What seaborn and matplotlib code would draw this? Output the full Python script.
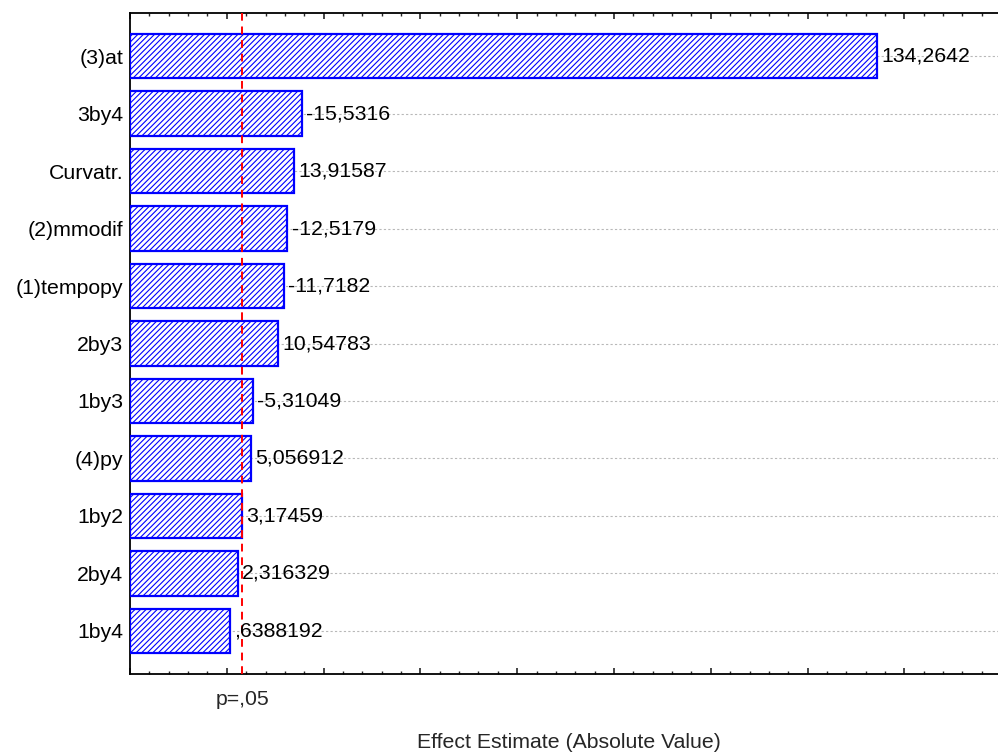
import matplotlib
matplotlib.use('Agg')
import matplotlib.pyplot as plt
import matplotlib.transforms as mtransforms
from matplotlib.ticker import MultipleLocator, NullFormatter
import seaborn as sns
import pandas as pd

# data
factors = ["(3)at", "3by4", "Curvatr.", "(2)mmodif", "(1)tempopy", "2by3",
           "1by3", "(4)py", "1by2", "2by4", "1by4"]
effects = [134.2642, -15.5316, 13.91587, -12.5179, -11.7182, 10.54783,
           -5.31049, 5.056912, 3.17459, 2.316329, 0.6388192]
effect_labels = ["134,2642", "-15,5316", "13,91587", "-12,5179", "-11,7182", "10,54783",
                 "-5,31049", "5,056912", "3,17459", "2,316329", ",6388192"]
p_crit = 3.182  # t critical, p=.05
p_label = "p=,05"

df = pd.DataFrame({"factor": factors, "abs_effect": [abs(v) for v in effects]})

x_min, x_max = -20, 161.4

sns.set_theme(style="white")
plt.rcParams['font.family'] = ['Liberation Sans', 'DejaVu Sans']
plt.rcParams['hatch.color'] = '#0000ff'
plt.rcParams['hatch.linewidth'] = 0.8

fig = plt.figure(figsize=(9.98, 7.52), dpi=100)
ax = fig.add_axes([130 / 998, 1 - 674 / 752, 1 - 130 / 998 + 0.01, (674 - 13) / 752])

sns.barplot(data=df, x="abs_effect", y="factor", orient="h", ax=ax,
            color="white", edgecolor="#0000ff", linewidth=1.6, width=0.77,
            zorder=3)
# statistica style: bars grow from the left edge of the axis
for p, v in zip(ax.patches, df["abs_effect"]):
    p.set_hatch("//////")
    p.set_x(x_min)
    p.set_width(v - x_min)

# horizontal grid at bar centres
for i in range(len(factors)):
    ax.axhline(i, color="#b8b8b8", linestyle=(0, (2, 2)), linewidth=0.8, zorder=1)

ax.axvline(p_crit, color="#ff0000", linestyle=(0, (4, 3)), linewidth=1.4, zorder=4)

for i, (v, lab) in enumerate(zip(df["abs_effect"], effect_labels)):
    ax.text(v + 0.9, i, lab, va="center", ha="left", fontsize=15.3, color="black", zorder=5)

ax.set_xlim(x_min, x_max)
ax.set_ylim(10.75, -0.75)

ax.xaxis.set_major_locator(MultipleLocator(20))
ax.xaxis.set_minor_locator(MultipleLocator(4))
ax.xaxis.set_major_formatter(NullFormatter())
ax.tick_params(axis="x", which="major", direction="in", length=4, width=1.2,
               top=True, bottom=True)
ax.tick_params(axis="x", which="minor", direction="in", length=2, width=1,
               top=True, bottom=True)
ax.tick_params(axis="y", which="major", direction="in", length=4, width=1.2,
               left=True, labelsize=15.3, pad=5, colors="black")

trans = mtransforms.blended_transform_factory(ax.transData, ax.transAxes)
ax.text(p_crit, -0.024, p_label, transform=trans, ha="center", va="top", fontsize=15.3)

ax.set_ylabel("")
ax.set_xlabel("Effect Estimate (Absolute Value)", fontsize=15.3, labelpad=39)

for side in ["left", "bottom", "top"]:
    ax.spines[side].set_color("black")
    ax.spines[side].set_linewidth(1.3)
ax.spines["right"].set_visible(False)

fig.savefig("out.png", dpi=100)
